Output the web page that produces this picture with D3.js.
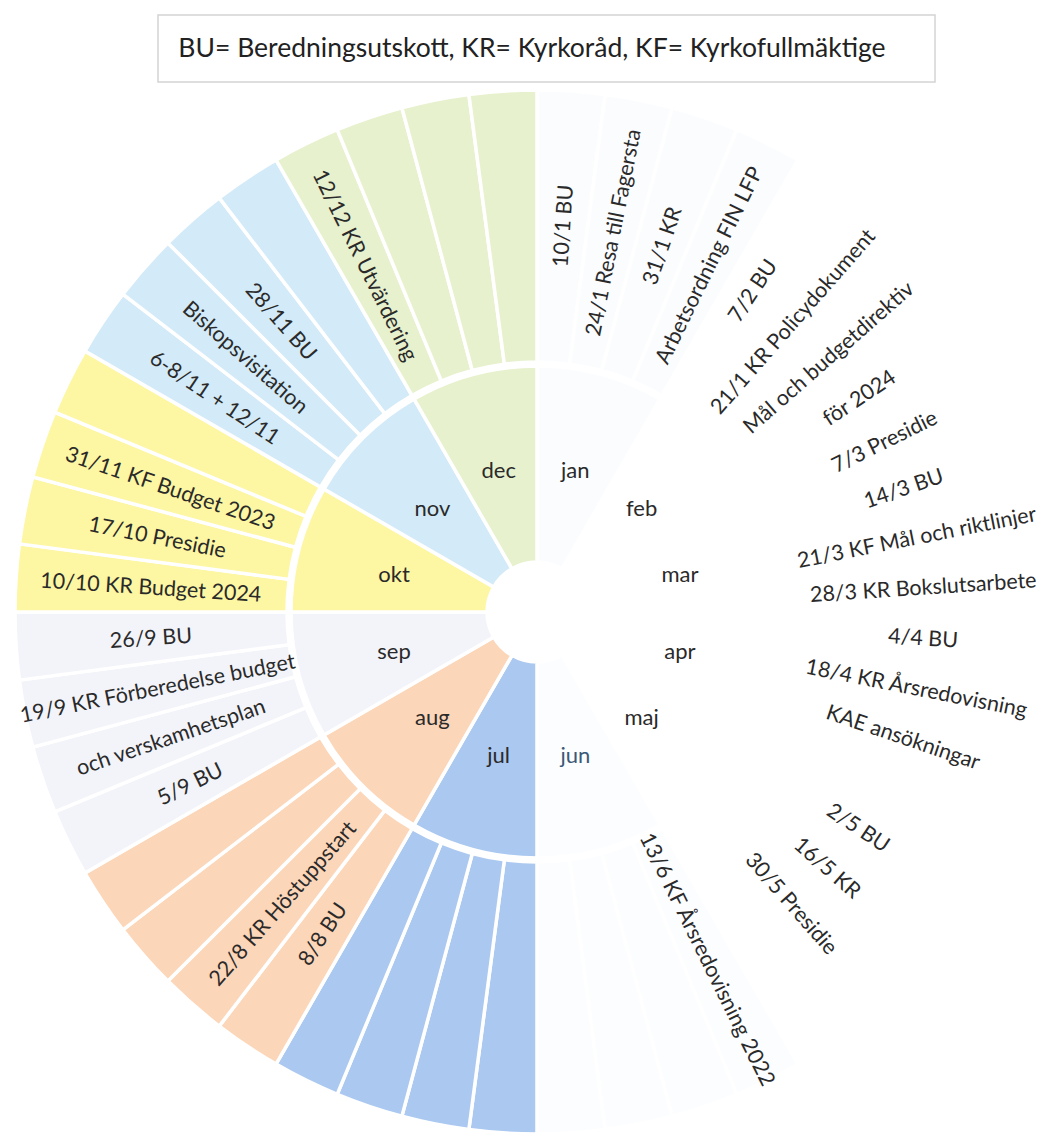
<!DOCTYPE html>
<html>
<head>
<meta charset="utf-8">
<script src="https://cdn.jsdelivr.net/npm/d3@7"></script>
<style>
  body { margin: 0; background: #ffffff; }
  svg { display: block; }
</style>
</head>
<body>
<svg id="chart" width="1042" height="1134"></svg>
<script>
// ---------------- DATA ----------------
const titleText = "BU= Beredningsutskott, KR= Kyrkoråd, KF= Kyrkofullmäktige";

const months = ["jan", "feb", "mar", "apr", "maj", "jun", "jul", "aug", "sep", "okt", "nov", "dec"];
const monthValues = [1, 1, 1, 1, 1, 1, 1, 1, 1, 1, 1, 1];
const monthColors = ["#fafcfe", "#ffffff", "#ffffff", "#ffffff", "#ffffff", "#fcfdff",
                     "#aac8f0", "#fcd6b8", "#f3f4fa", "#fdf6a3", "#d3eaf8", "#e7f1cd"];

// events per month, clockwise order (empty string = empty slot)
const janEvents = ["10/1 BU", "24/1 Resa till Fagersta", "31/1 KR", "Arbetsordning FIN LFP"];
const febEvents = ["7/2 BU", "21/1 KR Policydokument", "Mål och budgetdirektiv", "för 2024"];
const marEvents = ["7/3 Presidie", "14/3 BU", "21/3 KF Mål och riktlinjer", "28/3 KR Bokslutsarbete"];
const aprEvents = ["4/4 BU", "18/4 KR Årsredovisning", "KAE ansökningar", ""];
const majEvents = ["2/5 BU", "16/5 KR", "30/5 Presidie", ""];
const junEvents = ["13/6 KF Årsredovisning 2022", "", "", ""];
const julEvents = ["", "", "", ""];
const augEvents = ["8/8 BU", "22/8 KR Höstuppstart", "", ""];
const sepEvents = ["5/9 BU", "och verskamhetsplan", "19/9 KR Förberedelse budget", "26/9 BU"];
const oktEvents = ["10/10 KR Budget 2024", "17/10 Presidie", "31/11 KF Budget 2023", ""];
const novEvents = ["6-8/11 + 12/11", "Biskopsvisitation", "28/11 BU", ""];
const decEvents = ["12/12 KR Utvärdering", "", "", ""];

const eventsByMonth = [janEvents, febEvents, marEvents, aprEvents, majEvents, junEvents,
                       julEvents, augEvents, sepEvents, oktEvents, novEvents, decEvents];

// ---------------- LAYOUT ----------------
const cx = 537, cy = 612;
const rHole = 50, rInnerOut = 246, rOuterIn = 250, rOuterOut = 522;
const labelR = 387;
const FONT = "Lato, 'Open Sans', sans-serif";

const svg = d3.select("#chart");

// title box
svg.append("rect")
  .attr("x", 158).attr("y", 15).attr("width", 777).attr("height", 67)
  .attr("fill", "#ffffff").attr("stroke", "#d4d4d4").attr("stroke-width", 1.5);
svg.append("text")
  .attr("x", 532).attr("y", 47)
  .attr("text-anchor", "middle").attr("dominant-baseline", "central")
  .attr("font-family", FONT).attr("font-size", 26.5).attr("fill", "#222")
  .text(titleText);

const g = svg.append("g").attr("transform", `translate(${cx},${cy})`);

const pie = d3.pie().value(d => d.value).sort(null)
  .startAngle(0).endAngle(2 * Math.PI);

// inner ring: months
const monthData = months.map((m, i) => ({ name: m, value: monthValues[i], color: monthColors[i] }));
const monthArcs = pie(monthData);
const arcInner = d3.arc().innerRadius(rHole).outerRadius(rInnerOut);

g.selectAll("path.month").data(monthArcs).join("path")
  .attr("class", "month")
  .attr("d", arcInner)
  .attr("fill", d => d.data.color)
  .attr("stroke", "#ffffff").attr("stroke-width", 3.5);

// outer ring: event slots
const slotData = [];
eventsByMonth.forEach((list, mi) => {
  list.forEach(t => slotData.push({ text: t, value: monthValues[mi] / list.length, color: monthColors[mi] }));
});
const slotArcs = pie(slotData);
const arcOuter = d3.arc().innerRadius(rOuterIn).outerRadius(rOuterOut);

g.selectAll("path.slot").data(slotArcs).join("path")
  .attr("class", "slot")
  .attr("d", arcOuter)
  .attr("fill", d => d.data.color)
  .attr("stroke", "#ffffff").attr("stroke-width", 3.5);

// month labels
g.selectAll("text.month").data(monthArcs).join("text")
  .attr("class", "month")
  .attr("transform", d => `translate(${arcInner.centroid(d)})`)
  .attr("text-anchor", "middle").attr("dominant-baseline", "central")
  .attr("font-family", FONT).attr("font-size", 22)
  .attr("fill", d => d.data.name === "jun" ? "#3b5a78" : "#2a2a2a")
  .text(d => d.data.name);

// event labels (radial)
g.selectAll("text.slot").data(slotArcs.filter(d => d.data.text !== "")).join("text")
  .attr("class", "slot")
  .attr("transform", d => {
    const a = (d.startAngle + d.endAngle) / 2;
    const deg = a * 180 / Math.PI;
    const x = labelR * Math.sin(a), y = -labelR * Math.cos(a);
    const rot = deg < 180 ? deg - 90 : deg - 270;
    return `translate(${x},${y}) rotate(${rot})`;
  })
  .attr("text-anchor", "middle").attr("dominant-baseline", "central")
  .attr("font-family", FONT).attr("font-size", 21.5).attr("fill", "#2a2a2a")
  .text(d => d.data.text);
</script>
</body>
</html>
